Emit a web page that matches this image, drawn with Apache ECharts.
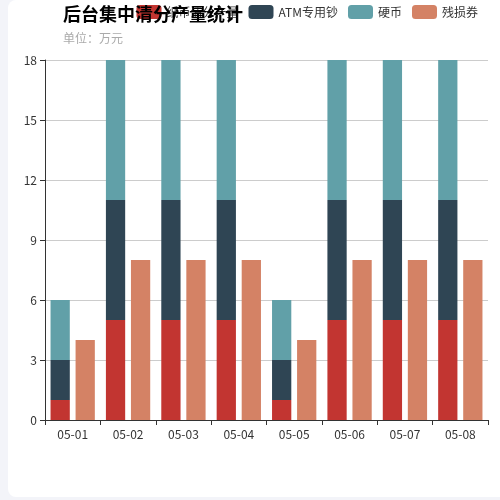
<!DOCTYPE html>
<html>
<head>
<meta charset="utf-8">
<script src="https://cdn.jsdelivr.net/npm/echarts@6/dist/echarts.min.js"></script>
<style>
  html, body { margin: 0; padding: 0; background: #f3f4f9; }
  #main {
    position: absolute;
    left: 8px;
    top: 0;
    width: 492px;
    height: 497px;
    background: #fff;
    border-radius: 8px 0 0 8px;
  }
</style>
</head>
<body>
<div id="main"></div>
<script>
// 日期
const days = ["05-01", "05-02", "05-03", "05-04", "05-05", "05-06", "05-07", "05-08"];
// 各类产量 (万元)
const qingfen = [1, 5, 5, 5, 1, 5, 5, 5];
const atm = [2, 6, 6, 6, 2, 6, 6, 6];
const yingbi = [3, 7, 7, 7, 3, 7, 7, 7];
const cansun = [4, 8, 8, 8, 4, 8, 8, 8];
const yTicks = { min: 0, max: 18, interval: 3 };

const myChart = echarts.init(document.getElementById("main"));

let option = {
  color: ["#c23531", "#2f4554", "#61a0a8", "#d48265"],
  animation: false,
  title: {
    text: "后台集中清分产量统计",
    subtext: "单位：万元",
    left: 50,
    top: 0,
    itemGap: 9,
    textStyle: {
      fontSize: 18,
      fontWeight: "bold",
      color: "#000",
      fontFamily: "Noto Sans CJK SC",
    },
    subtextStyle: {
      fontSize: 12,
      color: "#aaa",
      fontFamily: "Noto Sans CJK SC",
    },
  },
  legend: {
    right: 17,
    top: 0,
    itemWidth: 25,
    itemHeight: 14,
    itemGap: 10,
    textStyle: { fontSize: 12, color: "#333", fontFamily: "Noto Sans CJK SC" },
    data: ["纸币清分产量", "ATM专用钞", "硬币", "残损券"],
  },
  grid: {
    left: 37,
    right: 12,
    top: 60,
    bottom: 77,
  },
  xAxis: {
    type: "category",
    data: days,
    axisLine: { lineStyle: { color: "#333" } },
    axisTick: { show: true, lineStyle: { color: "#333" } },
    axisLabel: { color: "#333", fontSize: 12, fontFamily: "Noto Sans CJK SC" },
  },
  yAxis: {
    type: "value",
    min: yTicks.min,
    max: yTicks.max,
    interval: yTicks.interval,
    axisLine: { show: true, lineStyle: { color: "#333" } },
    axisTick: { show: true, lineStyle: { color: "#333" } },
    axisLabel: { color: "#333", fontSize: 12, fontFamily: "Noto Sans CJK SC" },
    splitLine: { lineStyle: { color: "#ccc" } },
  },
  series: [
    { name: "纸币清分产量", type: "bar", stack: "total", data: qingfen, itemStyle: { borderWidth: 0 } },
    { name: "ATM专用钞", type: "bar", stack: "total", data: atm, itemStyle: { borderWidth: 0 } },
    { name: "硬币", type: "bar", stack: "total", data: yingbi, itemStyle: { borderWidth: 0 } },
    {
      name: "残损券", type: "bar", data: cansun, itemStyle: { borderWidth: 0 },
      barGap: "30%", barCategoryGap: "20%",
    },
  ],
};

option && myChart.setOption(option);
</script>
</body>
</html>
